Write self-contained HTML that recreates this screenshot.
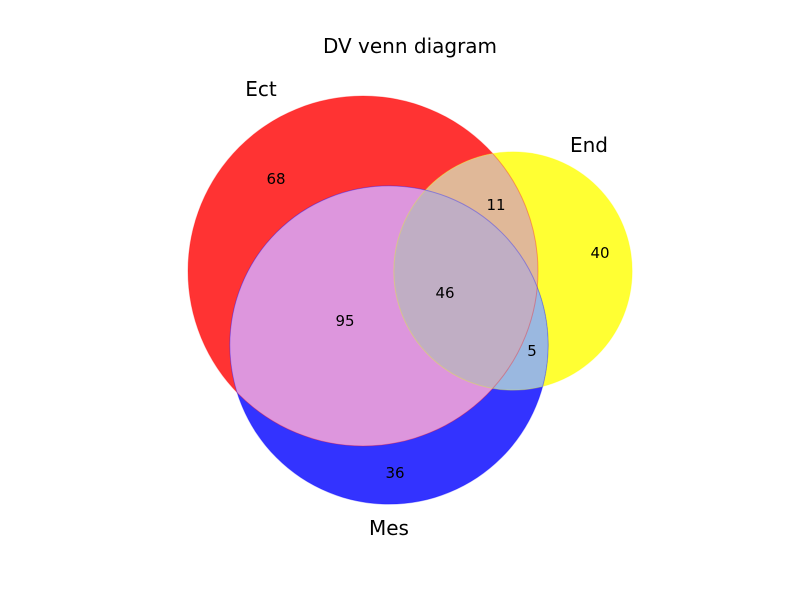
<!DOCTYPE html>
<html><head><meta charset="utf-8"><style>
body{margin:0;background:#fff;}
svg text{font-family:"DejaVu Sans","Liberation Sans",sans-serif;}
</style></head><body>
<svg id="chart" width="800" height="600" viewBox="0 0 800 600">
<text x="410" y="53" font-size="20" text-anchor="middle">DV venn diagram</text>
<g id="g"></g>
</svg>
<script>
const setNames = ["Ect", "End", "Mes"];
const regionKeys = ["100", "010", "110", "001", "101", "011", "111"];
const regionValues = [68, 40, 11, 36, 95, 5, 46];
const NS = "http://www.w3.org/2000/svg";
const g = document.getElementById('g');
const sizes = [0,1,2].map(i=>regionKeys.reduce((s,k,j)=>s+(k[i]==='1'?regionValues[j]:0),0));
const scale = 175/Math.sqrt(220);
const radii = sizes.map(s=>Math.sqrt(s)*scale);
const centers = [[363,271],[513,271],[389,345]];
function el(tag, attrs, parent){const e=document.createElementNS(NS,tag);for(const k in attrs)e.setAttribute(k,attrs[k]);(parent||g).appendChild(e);return e;}
const defs = el('defs',{});
for(let i=0;i<3;i++){
  const cp=el('clipPath',{id:'c'+i},defs);
  el('circle',{cx:centers[i][0],cy:centers[i][1],r:radii[i]},cp);
}
const base=['#ff3333','#ffff33','#3333ff'];
for(let i=0;i<3;i++){
  const c=el('circle',{cx:centers[i][0],cy:centers[i][1],r:radii[i],fill:base[i]});
  
  
}
function inter(list,color,name){
  let parent=g;
  list.forEach((i,idx)=>{if(idx<list.length-1){parent=el('g',{'clip-path':'url(#c'+i+')'},parent);}});
  const last=list[list.length-1];
  const c=el('circle',{cx:centers[last][0],cy:centers[last][1],r:radii[last],fill:color},parent);
  
  
}
inter([0,1],'#e0b898','region-ect-end');
inter([0,2],'#dd96dd','region-ect-mes');
inter([1,2],'#9ab8e0','region-end-mes');
inter([0,1,2],'#c0aec4','region-all');
const edges=['rgba(255,0,0,0.3)','rgba(255,255,0,0.3)','rgba(0,0,255,0.3)'];
for(let i=0;i<3;i++){el('circle',{cx:centers[i][0],cy:centers[i][1],r:radii[i],fill:'none',stroke:edges[i],'stroke-width':1});}
const labelPos={"100":[276,179],"010":[600,253],"110":[496,205],"001":[395,473],"101":[345,321],"011":[532,351],"111":[445,293]};
regionKeys.forEach((k,j)=>{
  const t=el('text',{x:labelPos[k][0],y:labelPos[k][1]+5,'font-size':15,'text-anchor':'middle'});
  t.textContent=regionValues[j];
  
  
});
const setPos=[[261,96],[589,152],[389,535]];
setNames.forEach((n,i)=>{
  const t=el('text',{x:setPos[i][0],y:setPos[i][1],'font-size':20,'text-anchor':'middle'});
  t.textContent=n;
  
  
});
</script>
</body></html>
